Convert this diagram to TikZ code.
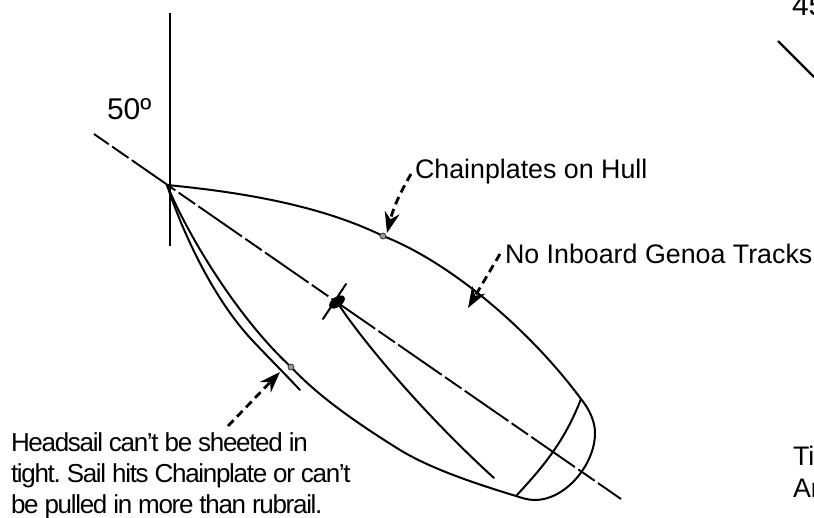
\documentclass[tikz,border=0pt]{standalone}
\usepackage{fontspec}
\setmainfont{Liberation Sans}
\usetikzlibrary{arrows.meta}
\tikzset{
  lbl/.style={font=\fontsize{26.8}{32}\selectfont, inner sep=0pt, outer sep=0pt, align=left, text=black},
  tight/.style={font=\fontsize{26}{31}\selectfont\addfontfeature{LetterSpace=-5}\frenchspacing}}

\begin{document}
\begin{tikzpicture}[x=1pt, y=-1pt,
      hull/.style={line width=2pt, black, line cap=round, line join=round},
      axis/.style={line width=2.2pt, black},
      chain/.style={line width=1.9pt, black, dash pattern=on 53pt off 4pt on 20pt off 4pt, dash phase=35pt},
      fit/.style={circle, draw=black!80, fill=black!40, line width=0.8pt, minimum size=6pt, inner sep=0pt},
      call/.style={-{Stealth[length=21pt, width=15pt]}, line width=2.8pt, black, dash pattern=on 8pt off 5pt},
      ang/.style={font=\fontsize{30}{32}\selectfont, inner sep=0pt, outer sep=0pt, text=black}]
      \useasboundingbox (0,0) rectangle (814,517);
      % fixed points of the boat
      \coordinate (bow) at (167,185);
      \coordinate (mast) at (337,302);
      \coordinate (stbd) at (581,399);
      \coordinate (port) at (516,496);
      \coordinate (clew) at (300,390);
      \coordinate (boomend) at (494,478);
      \coordinate (upperpt) at (383,236);
      \coordinate (lowerpt) at (291,367);
      % labels
      \node[lbl, anchor=west] (chainlbl) at (415,172) {Chainplates on Hull};
      \node[lbl, anchor=west] (tracklbl) at (505,254) {No Inboard Genoa Tracks};
      \node[lbl, tight, anchor=base west] (headlbl) at (11,513)
        {Headsail can’t be sheeted in\\ tight. Sail hits Chainplate or can’t\\ be pulled in more than rubrail.};
      \node[ang, anchor=base west] (anglbl) at (107,119) {50º};
      \node[ang, anchor=base west] (otherang) at (792,15) {45};
      \node[lbl, anchor=base west] (rightlbl) at (793,497) {Ti\\ An};
      % reference lines
      \coordinate (vtop) at (170,13);
      \coordinate (vbot) at (170,246);
      \draw[axis] (vtop) -- (vbot);
      \coordinate (cla) at (94,134);
      \coordinate (clb) at (621,499);
      \draw[chain] (cla) -- (clb);
      \coordinate (otherA) at (778,41);
      \coordinate (otherB) at (814,77);
      \draw[axis] (otherA) -- (otherB);
      % hull and deck
      \draw[hull] (bow) .. controls (240,192) and (320,205) .. (upperpt)
        .. controls (450,262) and (530,330) .. (stbd)
        .. controls (590,410) and (595,422) .. (595,433)
        .. controls (595,465) and (565,500) .. (535,500)
        .. controls (528,500) and (522,498) .. (port)
        .. controls (470,482) and (430,468) .. (400,450)
        .. controls (360,425) and (320,398) .. (lowerpt)
        .. controls (240,320) and (190,240) .. (bow);
      \draw[hull] (stbd) .. controls (565,440) and (545,465) .. (port);
      % headsail, boom and spreaders
      \draw[hull] (bow) .. controls (180,225) and (210,295) .. (252,340)
        .. controls (268,357) and (284,373) .. (clew);
      \draw[hull] (mast) .. controls (365,345) and (430,420) .. (boomend);
      \coordinate (sprA) at (323,319);
      \coordinate (sprB) at (346,284);
      \draw[hull] (sprA) -- (sprB);
      \fill[black, rotate around={35:(mast)}] (mast) ellipse (9pt and 5pt);
      \node[fit] (upperplate) at (upperpt) {};
      \node[fit] (lowerplate) at (lowerpt) {};
      % callouts
      \coordinate (chainend) at (387,233);
      \coordinate (trackend) at (468,308);
      \coordinate (headstart) at (228,426);
      \coordinate (headend) at (280,372);
      \draw[call] (chainlbl.west) ++(-4,2) to[bend right=8] (chainend);
      \draw[call] (tracklbl.west) ++(-5,0) -- (trackend);
      \draw[call] (headstart) -- (headend);
    \end{tikzpicture}
\end{document}
